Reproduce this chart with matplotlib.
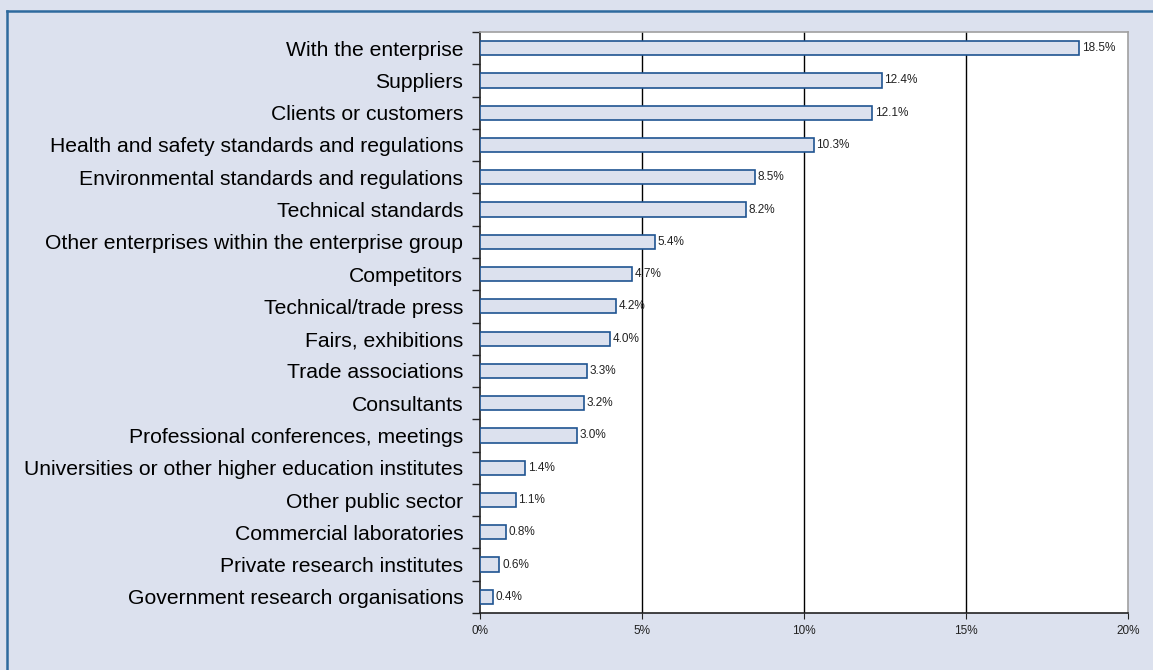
import matplotlib
matplotlib.use("Agg")
import matplotlib.pyplot as plt
from matplotlib.lines import Line2D
from matplotlib.ticker import FixedLocator, FuncFormatter

categories = [
    "With the enterprise",
    "Suppliers",
    "Clients or customers",
    "Health and safety standards and regulations",
    "Environmental standards and regulations",
    "Technical standards",
    "Other enterprises within the enterprise group",
    "Competitors",
    "Technical/trade press",
    "Fairs, exhibitions",
    "Trade associations",
    "Consultants",
    "Professional conferences, meetings",
    "Universities or other higher education institutes",
    "Other public sector",
    "Commercial laboratories",
    "Private research institutes",
    "Government research organisations",
]
values = [18.5, 12.4, 12.1, 10.3, 8.5, 8.2, 5.4, 4.7, 4.2, 4.0, 3.3, 3.2, 3.0, 1.4, 1.1, 0.8, 0.6, 0.4]
x_ticks = [0, 5, 10, 15, 20]

plt.rcParams['font.family'] = ['Liberation Sans', 'DejaVu Sans']

bg = '#DCE1EE'
edge = '#1F5491'

fig = plt.figure(figsize=(11.53, 6.70), dpi=100, facecolor=bg)
ax = fig.add_axes([480/1153, 1-613/670, (1128-480)/1153, (613-32)/670])
ax.set_facecolor('white')

n = len(categories)
ypos = list(range(n))
ax.barh(ypos, values, height=0.44, color=bg, edgecolor=edge, linewidth=1.2, zorder=3)
for y, v in zip(ypos, values):
    ax.text(v + 0.08, y, f"{v:.1f}%", va='center', ha='left', fontsize=8.5, color='#222222', zorder=4)

ax.set_ylim(n - 0.5, -0.5)
ax.set_xlim(0, 20)
ax.set_yticks(ypos)
ax.set_yticklabels(categories, fontsize=15.2)
ax.tick_params(axis='y', which='major', length=0, pad=12)
ax.yaxis.set_minor_locator(FixedLocator([i - 0.5 for i in range(n + 1)]))
ax.tick_params(axis='y', which='minor', length=6, width=1, color='#222222')

ax.xaxis.set_major_locator(FixedLocator(x_ticks))
ax.xaxis.set_major_formatter(FuncFormatter(lambda v, p: f"{int(v)}%"))
ax.tick_params(axis='x', length=4, labelsize=8.5, pad=5, colors='#222222')

for t in x_ticks[1:-1]:
    ax.axvline(t, color='black', linewidth=1, zorder=1)

ax.spines['left'].set_color('#222222')
ax.spines['bottom'].set_color('#222222')
ax.spines['top'].set_color('#A0A0A0')
ax.spines['right'].set_color('#A0A0A0')
for s in ax.spines.values():
    s.set_linewidth(1.2)

# outer frame lines (top and left)
fig.add_artist(Line2D([6.5/1153, 1], [1-10.5/670, 1-10.5/670], color='#2E6A9E', linewidth=1.8))
fig.add_artist(Line2D([6.5/1153, 6.5/1153], [0, 1-10.5/670], color='#2E6A9E', linewidth=1.8))

fig.savefig('out.png', dpi=100, facecolor=bg)
